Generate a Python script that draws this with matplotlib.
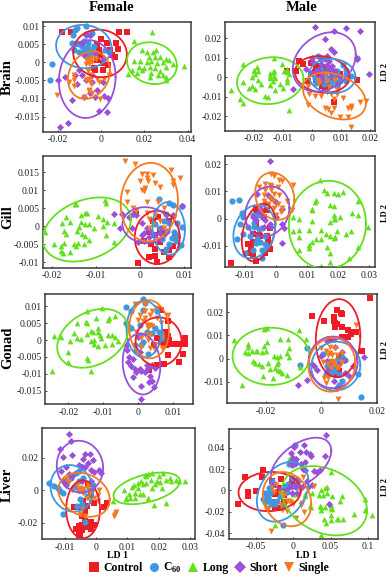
import numpy as np
import matplotlib
matplotlib.use("Agg")
from matplotlib import pyplot as plt
from matplotlib.lines import Line2D

plt.rcParams['font.family'] = ['Liberation Serif', 'DejaVu Serif']
plt.rcParams['mathtext.fontset'] = 'custom'
plt.rcParams['mathtext.bf'] = 'Liberation Serif:bold'
plt.rcParams['mathtext.rm'] = 'Liberation Serif:bold'

# group names and colours, drawing order is the same everywhere
groups = ['Control', 'C60', 'Long', 'Short', 'Single']
legend_labels = ['Control', r'C$_{\mathbf{60}}$', 'Long', 'Short', 'Single']
colors = ['#EE1C25', '#3F97E2', '#62E01C', '#9A50D8', '#F5791F']
markers = ['s', 'o', '^', 'D', 'v']
sizes = [16, 20, 17, 13, 18]

# Female brain
fb_control = [(-.018,.0084),(-.014,.0084),(.0082,.0084),(.0122,.0084),(0,.0066),(-.002,.005),(.0026,.0054),(.007,.0054),(.008,.0037),(.005,.0021),(.0064,.0015),(.001,-.0002),(-.002,.0007),(.003,-.0006),(.001,-.0022),(-.003,-.002),(-.001,.0035),(-.0035,-.0016),(-.0005,.002),(.004,.0035)]
fb_c60 = [(-.0226,-.0004),(-.0234,-.0048),(-.007,.0101),(-.011,.0095),(-.012,.009),(-.004,.0082),(-.005,.0075),(-.007,.0078),(-.0135,.0053),(-.012,.005),(-.011,.0055),(-.01,.005),(-.009,.0045),(-.008,.004),(-.007,.0035),(-.006,.004),(-.005,.003),(-.004,.0035),(-.0085,.0025),(-.0075,.002),(-.006,.0025),(-.01,.003),(-.0035,.0045),(.0035,.0028),(.002,.0035),(-.013,.0075),(-.003,.0025),(-.006,.0055),(-.008,.006),(-.0125,.0035),(-.005,.0015)]
fb_long = [(.0235,.0085),(.015,.006),(.019,.0034),(.021,.003),(.024,.003),(.0255,.0035),(.022,.0015),(.025,.0015),(.027,.0015),(.03,.001),(.0315,.0008),(.015,.0005),(.018,.0005),(.021,0),(.023,.0005),(.026,-.0002),(.0285,.0002),(.033,-.0005),(.0385,-.001),(.0175,-.0012),(.02,-.0015),(.0225,-.0012),(.025,-.0015),(.03,-.0012),(.0145,-.002),(.0125,-.0032),(.0165,-.003),(.019,-.002),(.023,-.0028),(.027,-.0025),(.0225,-.004),(.0285,-.0035),(.03,-.004),(.03,-.005),(.0265,-.0035)]
fb_short = [(-.019,-.0178),(-.0155,-.0168),(-.02,-.0048),(-.0135,-.0105),(-.0165,-.004),(-.007,.0075),(-.005,.0075),(-.009,.0055),(-.008,.002),(-.006,.001),(-.01,-.002),(-.012,-.0035),(-.009,-.0035),(-.007,-.005),(-.004,-.0055),(-.002,-.0075),(-.005,-.0085),(-.008,-.0095),(-.003,-.0095),(.0015,-.0093),(.003,-.0098),(-.001,-.0135),(.0025,-.0138),(.001,-.0055),(-.003,.0025),(.001,.001),(-.011,-.006),(-.004,-.0035)]
fb_single = [(-.0205,-.009),(-.015,-.0055),(-.0125,-.0035),(-.0125,-.005),(-.0125,-.0065),(-.008,-.0095),(-.004,-.0085),(-.0005,-.01),(-.007,-.005),(-.006,-.0045),(-.0055,-.005),(-.0045,-.0035),(-.002,-.0045),(-.001,-.0055),(.0015,-.0045),(.0035,-.0035),(-.0055,-.0075),(-.0055,-.008),(-.006,-.0025),(-.0065,.0005),(-.006,.001),(-.005,.0005),(-.0055,-.0005),(-.004,0),(-.0045,.0012),(-.007,-.0005),(-.0025,.001),(-.0045,-.006)]
# ellipses: centre x, centre y, half width, half height, correlation
fb_ell = [(-.0005,.0025,.0124,.0066,-.05),(-.008,.0044,.0128,.006,-.05),(.0235,-.0002,.0115,.0058,-.12),(-.0064,-.0046,.0131,.0108,.06),(-.0056,-.0035,.0097,.0066,.18)]

# Male brain
mb_control = [(-.0085,.0035),(-.0055,.003),(-.0045,.0085),(-.003,.007),(-.0005,.0075),(.0015,.006),(.0035,.0055),(.0065,.005),(.001,.0025),(.002,.0015),(-.0005,.0015),(.0045,.002),(.0075,.002),(.0095,.0018),(.0155,-.0015),(.009,-.003),(.0015,-.0015),(-.0015,-.002),(.006,-.004),(.0045,-.006),(.0075,-.0125),(.0035,-.0045),(.0075,-.0005),(.005,.0045)]
mb_c60 = [(.0155,.0098),(.0105,.0065),(.002,.011),(.003,.0095),(.0055,.0055),(.0085,.0035),(.0065,.0025),(.0045,.0015),(.0075,.0015),(.0095,0),(.0115,.0015),(.0035,-.0005),(.0055,-.001),(.0075,-.0015),(.0095,-.002),(.0115,-.002),(.0015,-.003),(.004,-.0035),(.0065,-.0035),(.0085,-.0045),(.001,-.0005),(.0135,.0005),(.003,.0045),(.0115,.004)]
mb_long = [(-.0237,.0068),(-.0131,.0099),(-.0103,.0068),(-.019,.0052),(-.02,.004),(-.0085,.0045),(-.0095,.003),(-.0085,.0025),(-.02,.003),(-.0185,.003),(-.0195,.0015),(-.0205,0),(-.0145,.002),(-.0135,.0025),(-.013,.003),(-.0145,.0008),(-.013,.0005),(-.0125,-.0005),(-.0145,-.0005),(-.0135,-.002),(-.011,-.0035),(-.0085,-.001),(-.0085,-.0025),(-.008,.0015),(-.0175,-.0035),(-.0235,-.0025),(-.0278,-.0065),(-.0245,-.011),(-.0238,-.0132),(-.0215,-.0055),(-.0205,-.0045),(-.0195,-.006),(-.0145,-.004),(-.0125,-.0065),(-.016,-.0095),(-.015,-.0102),(-.01,-.0055),(-.008,-.0165),(-.0185,-.0012)]
mb_short = [(.001,.0258),(.0115,.0252),(.0075,.0235),(.0165,.0235),(.0045,.0195),(.0065,.0145),(.0075,.013),(.0155,.0095),(.0195,.0015),(-.0065,-.006),(0,.01),(.003,.01),(.005,.011),(.0045,.0095),(.006,.0085),(.0005,.008),(.003,.007),(.005,.0065),(.007,.006),(-.002,.0045),(.002,.004),(.004,.0025),(.006,.004),(.008,.003),(-.0005,.002),(.003,.0005),(.0065,.0005),(.0095,.0005),(.0035,-.0015),(.0015,.0035)]
mb_single = [(-.0015,-.0045),(-.001,-.0085),(.001,-.0095),(.003,-.0095),(.005,-.0075),(.0065,-.0085),(.0085,-.0085),(.0105,-.0105),(.0135,-.0145),(.0165,-.0125),(.0185,-.012),(.0125,-.0155),(.0135,-.0155),(-.0015,-.014),(.0045,-.0155),(.0055,-.016),(.0075,-.0155),(.0065,-.0185),(.0095,-.0205),(.0125,-.0205),(.0135,-.0255),(.006,-.005),(.0025,-.003),(.005,-.002),(.008,-.0015),(.0045,.0015),(.002,-.002),(.009,-.0065),(.0075,-.011)]
mb_ell = [(.0035,.0015,.0093,.0094,-.12),(.0069,.0007,.008,.0088,-.05),(-.0143,-.0017,.0114,.012,.08),(.0042,.0079,.0108,.0152,.25),(.0077,-.0096,.0108,.012,-.3)]

# Female gill
fg_control = [(-.0005,-.0102),(.0038,-.0098),(.0065,-.0085),(.001,-.0042),(.0025,-.005),(.0035,-.0062),(.0055,-.0072),(.0065,-.0065),(.0075,-.0055),(.0045,-.0045),(.0035,-.0025),(.002,-.0015),(.0065,.0015),(.003,.0015),(.004,.0025),(.002,-.0085),(.0035,-.0082),(-.001,.0033),(.0055,-.002),(.0045,-.001),(.008,-.003)]
fg_c60 = [(.0042,.0075),(.0065,.0065),(.0075,.006),(.0095,.0055),(.006,.0035),(.0075,.0028),(.0055,.0015),(.0065,.0008),(.0085,.001),(.0095,-.0002),(.0045,-.0005),(.0062,-.0012),(.0078,-.0015),(.0085,-.0025),(.0072,-.0032),(.0082,-.0042),(.0092,-.0052),(.0065,-.0048),(.0058,-.0062),(.005,-.0035),(.0035,.0005)]
fg_long = [(-.0215,-.0015),(-.0195,-.0048),(-.018,-.0055),(-.018,-.0068),(-.0172,-.0047),(-.0172,-.0012),(-.0168,-.0022),(-.0175,-.0075),(-.016,-.0072),(-.0145,-.0055),(-.015,-.0048),(-.014,-.0047),(-.0158,.0012),(-.0178,.0008),(-.0168,.0025),(-.0148,.0062),(-.0145,.0062),(-.0125,.0038),(-.012,.0038),(-.0135,.0032),(-.0135,.0012),(-.0138,-.0002),(-.0143,-.0012),(-.0132,-.0022),(-.0125,-.0028),(-.0128,-.0048),(-.0115,-.0038),(-.0125,.0005),(-.0115,.0005),(-.0105,-.0005),(-.0095,.0028),(-.0085,.002),(-.0085,0),(-.0075,.0012),(-.0078,-.0025),(-.0058,.001),(-.0058,-.0045),(-.008,.0072),(-.0078,.0065)]
fg_short = [(-.006,.0035),(-.004,.0035),(-.0045,-.0005),(-.0025,.0025),(-.001,.003),(-.0015,.0035),(-.0018,-.0005),(-.0005,-.0045),(.0005,.001),(.0015,-.0005),(.001,-.002),(.0025,-.0015),(.0005,-.0025),(.002,-.003),(.0035,-.0025),(.0045,-.002),(.005,-.0005),(.0075,.0032),(.0095,.0055),(.001,-.0042)]
fg_single = [(-.0035,.0182),(-.0012,.0172),(.007,.0155),(.0005,.0145),(.0015,.0145),(.0015,.0133),(.003,.0142),(0,.0125),(.0017,.0127),(.0035,.012),(.0075,.0125),(.009,.0133),(.0012,.0105),(.0005,.01),(.001,.0097),(-.003,.0095),(.0045,.0108),(.0075,.0115),(-.003,.0068),(-.0015,.0052),(.0015,.0068),(.004,.0068),(.0055,.0052),(-.001,.0042),(.0015,.0038),(.002,.002),(.0035,.003),(.0045,.0015),(.003,.0005),(.0055,-.0005),(.002,-.0005)]
fg_ell = [(.0039,-.0031,.0051,.0074,0),(.0065,-.0006,.0037,.0073,-.05),(-.0121,-.0009,.01,.0089,.3),(.0014,.0003,.0054,.005,-.05),(.0021,.0067,.0065,.0109,.05)]

# Male gill
mg_control = [(-.0145,-.0163),(-.0065,-.0155),(-.0085,-.0125),(-.0075,-.0085),(-.0055,-.006),(-.0075,-.0055),(-.005,-.0065),(-.003,-.0065),(-.0025,-.0075),(-.0025,-.009),(-.002,-.011),(-.0065,-.0025),(-.006,.0025),(-.004,.0005),(-.0045,.0025),(-.0065,.0035),(-.003,.003),(-.008,-.0105),(-.009,-.0095),(-.0035,-.0125),(-.0075,-.0135),(-.002,-.0035)]
mg_c60 = [(-.014,.0065),(-.012,.007),(-.011,.002),(-.0105,.0005),(-.0115,-.002),(-.0125,-.0075),(-.0105,-.0055),(-.01,-.0125),(-.0075,-.0115),(-.006,-.0075),(-.0045,-.0115),(-.003,-.0105),(-.0085,-.0065),(-.007,-.003),(-.0055,-.004),(-.0045,-.0035),(-.007,-.0015),(-.0075,.0015),(-.006,.0015),(-.0035,-.0065),(-.005,-.0085),(-.0065,-.009),(-.0035,-.0095),(-.009,-.003),(-.0045,-.0145)]
mg_long = [(.014,.0142),(.0155,.0105),(.0165,.0095),(.0215,.0098),(.0185,.0095),(.02,.0092),(.0265,.0065),(.013,.0068),(.0125,.006),(.0175,.005),(.0185,.0045),(.0115,.0035),(.0115,.003),(.0185,.0015),(.0245,.0022),(.0265,.0012),(.0055,.0005),(.0075,0),(.0115,-.0008),(.0185,-.0003),(.0175,-.0012),(.019,0),(.0205,.0005),(.0295,-.0032),(.0105,-.0042),(.0075,-.0042),(.0055,-.0045),(.0145,-.0042),(.016,-.0055),(.0195,-.0045),(.024,-.0045),(.0225,-.0055),(.0075,-.0068),(.0175,-.0065),(.019,-.0068),(.0185,-.0072),(.0145,-.0075),(.013,-.0075),(.0115,-.0085),(.0105,-.0098),(.0075,-.0115),(.0105,-.0108),(.0165,-.0105),(.0175,-.0125),(.0265,-.0105),(.0235,-.0145),(.0175,-.016),(.0145,-.0175)]
mg_short = [(-.002,.0212),(-.0025,.0085),(-.006,.0092),(-.0035,.0058),(-.0015,.0075),(0,.006),(-.005,.004),(-.0055,.0025),(-.0045,.0005),(-.0035,-.0005),(-.0065,-.0005),(-.002,-.002),(0,.0005),(.002,-.002),(.002,.0035),(.0025,-.0035),(.0018,-.0088),(-.0015,-.003),(-.004,-.003),(-.0075,.0005)]
mg_single = [(-.0015,.0165),(-.0005,.0155),(.001,.014),(.002,.0138),(.0055,.0125),(-.0035,.0128),(-.0055,.0115),(-.0035,.0105),(-.0015,.0105),(.001,.0085),(-.004,.0085),(-.002,.0075),(-.001,.0065),(.0005,.0055),(-.0005,.004),(.002,.004),(.0015,.0025),(0,.0015),(-.004,.0065),(-.0025,.0055),(.0035,.0065),(-.0005,.009),(-.002,.0125),(-.0015,.012),(-.0025,.005),(.005,.003),(.0005,.0115)]
mg_ell = [(-.0056,-.0051,.0054,.0106,.3),(-.007,-.0048,.0067,.0098,.18),(.0165,-.0023,.0124,.0162,.03),(-.0028,.0026,.0071,.0092,.15),(-.0004,.0082,.0063,.0087,-.15)]

# Female gonad
fo_control = [(.0065,.009),(.0085,.0055),(.008,.0025),(.0065,.0012),(.0085,.0012),(.009,0),(.0065,-.0005),(.0075,-.0015),(.0095,-.0012),(.011,-.0012),(.0125,-.0012),(.0135,-.0012),(.0128,-.004),(.0118,-.0065),(.008,-.0015),(.0045,-.0015),(.0075,-.0072),(.0055,-.0075),(.0032,-.0088),(.0135,.0007),(.0055,.0005),(.0075,.0003),(.0085,-.0045)]
fo_c60 = [(-.0035,.0098),(.0015,.0122),(.002,.011),(.0055,.0085),(.0015,.009),(-.002,.0085),(-.0035,.005),(-.003,.004),(-.002,.0035),(.0005,.0045),(.005,.0035),(.0065,.002),(.007,.0005),(.0005,.0015),(.0025,.0025),(.0015,-.0005),(.001,-.0015),(-.001,-.0015),(.003,-.004),(-.0005,-.003),(.006,.0025),(.004,.002)]
fo_long = [(-.0248,-.0093),(-.024,.0013),(-.022,.0008),(-.02,-.0065),(-.0195,-.0002),(-.0175,.0005),(-.0175,.005),(-.0145,.0085),(-.015,.0053),(-.0145,.005),(-.012,.0065),(-.0103,.0095),(-.0085,.006),(-.0082,.0065),(-.0065,.0072),(-.0185,.002),(-.0165,.0002),(-.0135,-.0002),(-.0125,0),(-.0145,.0018),(-.0135,.0027),(-.0128,.0025),(-.0115,.0035),(-.0115,.0025),(-.011,.0015),(-.0105,.0005),(-.0095,-.0015),(-.0085,.0015),(-.0075,.0015),(-.0065,.001),(-.0058,-.0002),(-.0075,-.0012),(-.0115,-.0018),(-.0125,-.0012),(-.0145,-.0052),(-.0143,-.006),(-.0135,-.0092),(-.02,-.0035)]
fo_short = [(-.0033,-.0015),(-.0033,-.003),(-.0025,-.005),(-.0015,-.0055),(-.003,-.0065),(-.002,-.0078),(-.001,-.0085),(-.0005,-.0095),(.0005,-.0085),(.001,-.0092),(.002,-.0095),(.003,-.0082),(.0025,-.0075),(.004,-.0075),(.005,-.0082),(.0035,-.0105),(.004,-.012),(.001,-.0135),(.0032,-.0125),(.0045,-.014),(.0008,-.0175),(-.0015,-.0108),(0,.001),(.0005,-.0035)]
fo_single = [(-.001,.0105),(.002,.0105),(.0055,.0095),(.0085,.0075),(.004,.0085),(.002,.0085),(.0005,.0075),(0,.006),(.002,.0065),(.0035,.0075),(.0055,.0065),(.0025,.0045),(.0035,.0045),(.004,.004),(.0015,.0055),(.003,.0035),(.0065,.005),(.002,.0015),(.0035,.0015),(.001,.0005),(.003,0),(.005,-.0015),(.001,-.002),(.0035,-.0025),(.007,.001),(.007,-.0025),(.005,-.003),(-.0005,.0025)]
fo_ell = [(.0059,-.0005,.0066,.0072,0),(.0018,.0032,.0051,.0084,0),(-.013,.0005,.0102,.0087,.3),(.001,-.0071,.0054,.009,-.08),(.0032,.0032,.0057,.0086,-.05)]

# Male gonad
mo_control = [(.0175,.0262),(.0055,.021),(.007,.0195),(.0075,.019),(-.0032,.0185),(.0045,.018),(.0045,.016),(.005,.0155),(.0055,.015),(.005,.0135),(.001,.016),(.0075,.0135),(.0095,.0125),(.0115,.0115),(.0125,.0115),(.0105,.0105),(.0095,.0095),(.0075,.0095),(.0145,.0035),(.003,.0085),(.0055,-.0065),(.0065,.0005),(.0065,-.0055)]
mo_c60 = [(-.0075,-.0028),(-.005,.0047),(.0005,.002),(.0075,.0005),(.0085,-.0005),(.002,-.003),(.0035,-.006),(.0065,-.0065),(.0045,-.0055),(.0075,-.0095),(.0055,-.0125),(.0065,-.0115),(.013,-.0068),(.0142,-.0165),(.0045,-.0035),(.0055,-.0005),(.0025,-.0055),(.0015,-.0065)]
mo_long = [(-.0315,.0082),(-.0265,.0062),(-.0265,.005),(-.0275,.003),(-.0265,.0025),(-.025,.0035),(-.023,.0035),(-.0215,.003),(-.0205,.0055),(-.02,.0035),(-.0195,.007),(-.0205,.0128),(-.0195,.013),(-.0148,.0085),(-.012,.0085),(-.0082,.0125),(-.0115,.0045),(-.0125,.0025),(-.0115,.0005),(-.0235,.0035),(-.0245,-.001),(-.024,-.002),(-.0225,-.0025),(-.0215,-.003),(-.019,-.002),(-.0185,-.0045),(-.017,.0012),(-.016,.0005),(-.015,.0012),(-.0155,-.0015),(-.0165,-.004),(-.0155,-.005),(-.015,-.0055),(-.014,-.006),(-.0125,-.007),(-.021,-.0075),(-.0175,-.0085),(-.0285,-.0115),(-.016,-.0025),(-.0075,-.0035),(-.0055,.0085)]
mo_short = [(-.0085,-.0115),(-.005,-.0092),(-.0035,-.0025),(.002,.0075),(.0045,.0085),(.005,.005),(.0075,.003),(.0155,.0008),(.008,-.0005),(0,.001),(.002,-.001),(.003,-.002),(.0065,-.0025),(.0085,-.006),(.0045,-.0095),(.0055,-.0125),(.01,-.0075),(.0115,-.003),(-.0015,-.005),(-.0025,-.003),(.0025,-.005)]
mo_single = [(.0125,.0145),(.006,-.0175),(0,.0045),(.0015,.0035),(.003,.005),(.005,.0045),(.0025,.0015),(.004,.0015),(.0055,.0015),(.0035,-.001),(.0045,-.0015),(.0025,-.0025),(.0035,-.004),(.0055,-.004),(.0065,-.0035),(.0075,-.0015),(.0005,-.0015),(.001,-.0085),(.0025,-.0085),(.0015,-.0105),(.0045,-.0025),(.003,.0025),(.0075,.0025)]
mo_ell = [(.006,.0088,.008,.0168,.05),(.0052,-.0032,.0088,.0105,.03),(-.0181,.001,.0138,.0123,0),(.0042,-.0016,.0088,.0111,0),(.0038,-.0026,.0084,.0116,.05)]

# Female liver
fl_control = [(-.0025,.004),(-.0015,-.003),(.0035,-.0075),(.0025,-.0105),(-.0005,-.008),(-.003,-.0095),(-.0055,-.0105),(-.007,-.01),(-.0045,-.0155),(-.0035,-.0185),(-.002,-.0215),(-.0015,-.0235),(-.0005,-.021),(-.0025,-.0225),(-.0055,-.022),(-.0065,-.0235),(-.0045,-.024),(-.005,-.0275),(-.0055,-.0275),(-.0045,-.0215),(-.0015,-.0195),(-.0035,-.013),(-.004,-.0065)]
fl_c60 = [(-.015,.0042),(-.0135,.0025),(-.012,.0015),(-.0115,-.0005),(-.0105,-.0015),(-.0105,-.0145),(-.0095,.006),(-.008,.0075),(-.0065,.0105),(-.0055,.012),(-.0045,.0145),(-.004,.0075),(-.0055,.006),(-.007,.002),(-.0055,.0005),(-.004,-.0005),(-.002,0),(-.005,-.005),(-.006,-.0095),(-.0035,-.0195),(-.0045,-.0085),(-.003,-.0035),(-.001,.0035)]
fl_long = [(.0055,-.0065),(.0088,0),(.0095,-.0045),(.0095,-.005),(.0105,-.0025),(.011,-.0045),(.0115,.002),(.0125,-.0015),(.0125,-.0045),(.0135,.0015),(.014,-.002),(.015,.004),(.015,-.002),(.016,.0045),(.016,.0085),(.0165,-.0045),(.0175,.0065),(.018,.0015),(.0185,-.009),(.019,.004),(.0195,.0055),(.02,.0085),(.0215,.0105),(.0205,.005),(.0225,.0065),(.0235,.0075),(.024,.0055),(.0225,-.0075),(.0255,.0065),(.0265,.0055),(.0285,.0055),(.0155,.0095),(.0165,.0098),(.0135,.0045),(.012,.0035),(.0145,.006),(.018,.0105),(.021,.0015)]
fl_short = [(-.0085,.0345),(-.008,.03),(-.0115,.0255),(-.0105,.0205),(-.0075,.0215),(-.0035,.0225),(-.002,.0225),(-.001,.0185),(.001,.0125),(.0015,.0105),(-.004,.0195),(-.0025,.0165),(-.0055,.0155),(-.0045,.0145),(-.0035,.0145),(-.0015,.0125),(-.0005,.0115),(-.0095,.014),(-.011,.012),(-.0085,.01),(-.0075,.0085),(-.0105,.006),(-.0095,.0035),(-.0045,.0055),(-.0015,.006)]
fl_single = [(.0065,-.0135),(.0058,-.016),(.0062,-.0145),(-.0095,.007),(-.0085,.005),(-.006,.003),(-.005,.0015),(-.004,.001),(-.003,.0015),(-.0055,-.0005),(-.004,-.0015),(-.002,-.0015),(-.003,-.0045),(-.001,0),(.0005,-.003),(-.0005,-.0045),(-.0045,-.012),(-.005,-.0145),(-.0035,-.0155),(.0005,-.0065),(-.0075,.0005),(.001,.0005),(-.002,-.0065),(-.0025,.0035)]
fl_ell = [(-.0041,-.0116,.0054,.0177,0),(-.0077,.0012,.0068,.0143,-.1),(.0162,.0012,.0106,.0097,.45),(-.0051,.0145,.0074,.0159,-.05),(-.0038,-.0027,.0082,.0135,-.22)]

# Male liver
ml_control = [(-.0645,.013),(-.0395,.0195),(-.073,-.0125),(-.06,-.0015),(-.0605,-.0055),(-.049,-.0005),(-.042,.0125),(-.028,.0085),(-.0255,.0055),(-.0155,.0105),(-.0015,.009),(-.0045,.0045),(-.0105,.0025),(-.018,.0025),(-.0085,-.0005),(-.0205,-.001),(-.024,-.0035),(-.0115,-.0045),(-.0275,-.0105),(-.0235,-.0155),(-.0165,-.0165),(-.012,-.0105)]
ml_c60 = [(.002,.042),(-.005,.0245),(.0015,.0245),(-.0015,.0115),(-.0065,.0065),(-.012,.004),(.0045,.0035),(.0065,.0085),(-.0285,.009),(-.028,.0055),(-.032,.002),(-.037,-.002),(-.04,-.0075),(-.0335,-.0065),(-.031,-.0025),(-.037,-.0105),(-.0305,-.0095),(-.0275,-.0105),(-.0245,-.0125),(-.0215,-.01),(-.0175,-.0055),(-.014,-.0325),(-.012,-.015),(-.035,-.0065),(-.0295,-.0125),(-.008,-.0015)]
ml_long = [(-.003,.031),(-.005,.029),(.05,.0175),(.045,.0035),(.043,.002),(.037,.0005),(.035,-.0045),(.045,-.002),(.052,-.0055),(.065,-.0055),(.0625,-.0095),(.0395,-.0045),(.025,-.002),(.0155,-.0055),(.0155,-.0035),(0,-.0035),(.003,-.003),(.0375,-.0155),(.043,-.015),(.05,-.0135),(.051,-.0165),(.0515,-.0175),(.037,-.0185),(.036,-.0145),(.022,-.0145),(.0245,-.0155),(.0415,-.0265),(.0505,-.0275),(.0585,-.0265),(.0595,-.0265),(.0665,-.0265),(.081,-.0215),(.096,-.0075),(.096,-.0185),(.105,-.0225),(.0445,-.0305),(.0375,-.0415),(-.024,-.032),(.05,-.023)]
ml_short = [(.044,.0515),(.0015,.041),(.015,.0425),(-.003,.035),(.009,.0355),(.017,.0358),(.022,.034),(.0235,.0325),(.0425,.0325),(0,.0305),(.0015,.0295),(.0045,.029),(-.003,.0265),(-.0015,.0235),(.0045,.0255),(.0105,.0245),(.0165,.027),(.0135,.02),(.0155,.0195),(.0285,.0185),(.0315,.0175),(.0365,.019),(.019,.0085),(.025,.0055),(.005,.0105),(.003,.0055),(.0125,.0035),(-.002,-.002),(.0055,-.0025),(.048,-.0125),(.02,.003),(-.004,.004)]
ml_single = [(-.0295,-.0375),(-.0335,-.017),(-.0365,-.0165),(-.0285,.002),(-.025,-.001),(-.0225,.005),(-.018,-.002),(-.012,-.004),(-.0055,-.01),(-.0085,-.0095),(-.0025,-.0105),(0,-.0125),(-.0165,-.0135),(-.015,-.018),(-.0085,-.0195),(.01,-.014),(.0125,-.0115),(.0145,-.0205),(.0035,-.0255),(.0275,.0045),(.0095,0),(.0135,.013)]
ml_ell = [(-.0312,-.001,.0416,.0183,.05),(-.0138,-.0012,.0345,.0279,.32),(.0419,-.0096,.0568,.0324,-.28),(.0107,.0251,.0403,.0242,.5),(-.008,-.0081,.0323,.0253,-.18)]

# axis limits and ticks
fb_xlim, fb_ylim = (-.0267, .0414), (-.0192, .0113)
mb_xlim, mb_ylim = (-.0297, .0217), (-.0275, .0282)
fg_xlim, fg_ylim = (-.0221, .0115), (-.0115, .0195)
mg_xlim, mg_ylim = (-.0163, .0319), (-.0179, .023)
fo_xlim, fo_ylim = (-.0267, .0157), (-.019, .0136)
mo_xlim, mo_ylim = (-.0339, .02), (-.0192, .0278)
fl_xlim, fl_ylim = (-.0173, .0316), (-.03, .0382)
ml_xlim, ml_ylim = (-.0859, .113), (-.0453, .0574)

fb_xt, fb_yt = ['-0.02', '0', '0.02', '0.04'], ['-0.015', '-0.01', '-0.005', '0', '0.005', '0.01']
mb_xt, mb_yt = ['-0.02', '-0.01', '0', '0.01', '0.02'], ['-0.02', '-0.01', '0', '0.01', '0.02']
fg_xt, fg_yt = ['-0.02', '-0.01', '0', '0.01'], ['-0.01', '-0.005', '0', '0.005', '0.01', '0.015']
mg_xt, mg_yt = ['-0.01', '0', '0.01', '0.02', '0.03'], ['-0.01', '0', '0.01', '0.02']
fo_xt, fo_yt = ['-0.02', '-0.01', '0', '0.01'], ['-0.015', '-0.01', '-0.005', '0', '0.005', '0.01']
mo_xt, mo_yt = ['-0.02', '0', '0.02'], ['-0.01', '0', '0.01', '0.02']
fl_xt, fl_yt = ['-0.01', '0', '0.01', '0.02', '0.03'], ['-0.02', '0', '0.02']
ml_xt, ml_yt = ['-0.05', '0', '0.05', '0.1'], ['-0.04', '-0.02', '0', '0.02', '0.04']

W, H = 392, 578


def add_panel(rect, pts, ell, xlim, ylim, xt, yt):
    """
    :param rect: left, right, top, bottom of the axes in image pixels
    Draw one scatter panel with its five groups and ellipses
    """
    l, r, t, b = rect
    ax = fig.add_axes([l / W, 1 - b / H, (r - l) / W, (b - t) / H])
    for i, group in enumerate(pts):
        arr = np.array(group)
        ax.scatter(arr[:, 0], arr[:, 1], s=sizes[i], c=colors[i], marker=markers[i],
                   linewidths=0, zorder=2 + i * 0.1, clip_on=True)
    t_par = np.linspace(0, 2 * np.pi, 200)
    for i, (cx, cy, rx, ry, rho) in enumerate(ell):
        ax.plot(cx + rx * np.cos(t_par), cy + ry * np.cos(t_par - np.arccos(rho)),
                color=colors[i], lw=1.3, zorder=3)
    ax.set_xlim(xlim)
    ax.set_ylim(ylim)
    ax.set_xticks([float(v) for v in xt])
    ax.set_xticklabels(xt)
    ax.set_yticks([float(v) for v in yt])
    ax.set_yticklabels(yt)
    ax.tick_params(direction='in', length=1.5, width=0.6, labelsize=7, pad=2.5, colors='#222222')
    for s in ax.spines.values():
        s.set_linewidth(1.1)
        s.set_color('#3a3a3a')
    return ax


fig = plt.figure(figsize=(W / 100, H / 100), dpi=100)

add_panel((43.3, 190.7, 21.7, 131.7), [fb_control, fb_c60, fb_long, fb_short, fb_single], fb_ell, fb_xlim, fb_ylim, fb_xt, fb_yt)
add_panel((225.3, 375.3, 22.3, 131), [mb_control, mb_c60, mb_long, mb_short, mb_single], mb_ell, mb_xlim, mb_ylim, mb_xt, mb_yt)
add_panel((42.7, 190.7, 156, 267.7), [fg_control, fg_c60, fg_long, fg_short, fg_single], fg_ell, fg_xlim, fg_ylim, fg_xt, fg_yt)
add_panel((225.3, 375.3, 156, 267.3), [mg_control, mg_c60, mg_long, mg_short, mg_single], mg_ell, mg_xlim, mg_ylim, mg_xt, mg_yt)
add_panel((45, 192.7, 294, 404.3), [fo_control, fo_c60, fo_long, fo_short, fo_single], fo_ell, fo_xlim, fo_ylim, fo_xt, fo_yt)
add_panel((227, 377, 294, 403.3), [mo_control, mo_c60, mo_long, mo_short, mo_single], mo_ell, mo_xlim, mo_ylim, mo_xt, mo_yt)
add_panel((41.7, 195, 428, 539.3), [fl_control, fl_c60, fl_long, fl_short, fl_single], fl_ell, fl_xlim, fl_ylim, fl_xt, fl_yt)
add_panel((228.7, 377.7, 429, 539), [ml_control, ml_c60, ml_long, ml_short, ml_single], ml_ell, ml_xlim, ml_ylim, ml_xt, ml_yt)


def fig_text(px, py, s, **kw):
    fig.text(px / W, 1 - py / H, s, ha='center', va='center', fontweight='bold', **kw)


fig_text(112, 7.5, 'Female', fontsize=10.5)
fig_text(302, 7.5, 'Male', fontsize=10.5)
for py, name in zip([77, 217, 348, 485], ['Brain', 'Gill', 'Gonad', 'Liver']):
    fig_text(7.5, py, name, fontsize=10.5, rotation=90)
for py in [72, 213, 350, 487]:
    fig_text(385, py, 'LD 2', fontsize=6, rotation=90)
fig_text(117, 555.5, 'LD 1', fontsize=7)
fig_text(307, 555.5, 'LD 1', fontsize=7)

handles = [Line2D([], [], ls='', marker=m, color=c, ms=ms, mew=0)
           for m, c, ms in zip(markers, colors, [6.5, 6.5, 7.5, 6, 7.5])]
fig.legend(handles, legend_labels, ncol=5, loc='center', bbox_to_anchor=(209 / W, 1 - 568 / H),
           frameon=False, prop={'size': 8.5, 'weight': 'bold'}, handlelength=0.8, handletextpad=0.4,
           columnspacing=0.55, borderpad=0, borderaxespad=0)

fig.savefig('out.png', dpi=100)
